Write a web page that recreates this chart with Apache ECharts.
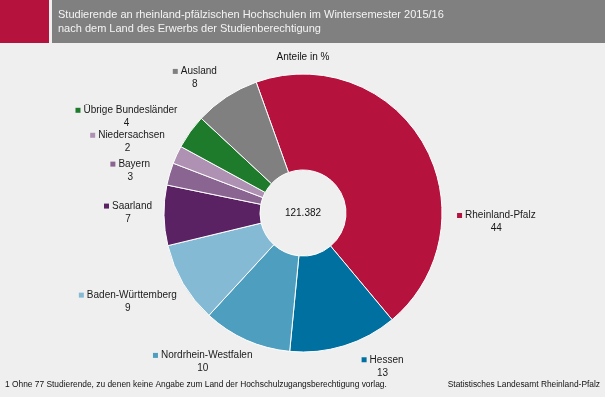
<!DOCTYPE html>
<html>
<head>
<meta charset="utf-8">
<script src="https://cdn.jsdelivr.net/npm/echarts@6/dist/echarts.min.js"></script>
<style>
  html, body { margin: 0; padding: 0; background: #efefef; }
  #chart { width: 605px; height: 397px; }
</style>
</head>
<body>
<div id="chart"></div>
<script>
// Anteile in % (aus dem Bild geschätzt)
const categories = ['Rheinland-Pfalz', 'Hessen', 'Nordrhein-Westfalen', 'Baden-Württemberg',
  'Saarland', 'Bayern', 'Niedersachsen', 'Übrige Bundesländer', 'Ausland'];
const shares = [44.4, 12.6, 10.3, 9.4, 7.0, 2.6, 2.1, 4.0, 7.6];
const total = '121.382';

const palette = ['#b5123e', '#0070a0', '#4e9ec0', '#85bad5', '#5a2263',
  '#8a6592', '#ae91b3', '#1e7b2b', '#808080'];

// Verschiebung der Beschriftungen wie im Original (dx, dy)
const labelShift = [[20, 84], [11, 9], [14, 11], [7, 12], [3, -3], [-5, 0], [2, -8], [0, -8], [0, -9]];

const font = '"Liberation Sans", Arial, sans-serif';

const chart = echarts.init(document.getElementById('chart'));

const data = categories.map((name, i) => ({
  name: name,
  value: shares[i],
  itemStyle: { color: palette[i] },
  label: {
    rich: {
      m: { width: 5, height: 5, backgroundColor: palette[i], align: 'center' },
      n: { fontSize: 10, color: '#1a1a1a', fontFamily: font, align: 'center', padding: [0, 0, 0, 3], lineHeight: 13 },
      v: { fontSize: 10, color: '#1a1a1a', fontFamily: font, align: 'center', lineHeight: 13 }
    }
  }
}));

const option = {
  backgroundColor: '#efefef',
  animation: false,
  graphic: [
    { type: 'rect', shape: { x: 0, y: 0, width: 49, height: 43 }, style: { fill: '#b5123e' } },
    { type: 'rect', shape: { x: 52, y: 0, width: 553, height: 43 }, style: { fill: '#808080' } },
    {
      type: 'text', left: 58, top: 8,
      style: {
        text: 'Studierende an rheinland-pfälzischen Hochschulen im Wintersemester 2015/16\nnach dem Land des Erwerbs der Studienberechtigung',
        fill: '#f4f4f4', font: '11px ' + font, lineHeight: 14
      }
    },
    {
      type: 'text', x: 303, y: 57,
      style: { text: 'Anteile in %', fill: '#111', font: '10px ' + font, align: 'center', verticalAlign: 'middle' }
    },
    {
      type: 'text', x: 303, y: 213,
      style: { text: total, fill: '#111', font: '10px ' + font, align: 'center', verticalAlign: 'middle' }
    },
    {
      type: 'text', x: 5, y: 385,
      style: {
        text: '1 Ohne 77 Studierende, zu denen keine Angabe zum Land der Hochschulzugangsberechtigung vorlag.',
        fill: '#111', font: '8.4px ' + font, verticalAlign: 'middle'
      }
    },
    {
      type: 'text', x: 600, y: 385,
      style: { text: 'Statistisches Landesamt Rheinland-Pfalz', fill: '#111', font: '8.4px ' + font, align: 'right', verticalAlign: 'middle' }
    }
  ],
  series: [
    {
      type: 'pie',
      center: [303, 213],
      radius: [43, 139],
      startAngle: 109.7,
      clockwise: true,
      avoidLabelOverlap: false,
      itemStyle: { borderColor: '#ffffff', borderWidth: 1 },
      label: {
        show: true,
        position: 'outside',
        formatter: p => '{m|}{n|' + p.name + '}\n{v|' + Math.round(p.value) + '}',
        distanceToLabelLine: 3
      },
      labelLine: { show: false, length: 12, length2: 0 },
      labelLayout: p => ({
        dx: labelShift[p.dataIndex][0],
        dy: labelShift[p.dataIndex][1],
        hideOverlap: false
      }),
      emphasis: { disabled: true },
      data: data
    }
  ]
};

chart.setOption(option);
</script>
</body>
</html>
